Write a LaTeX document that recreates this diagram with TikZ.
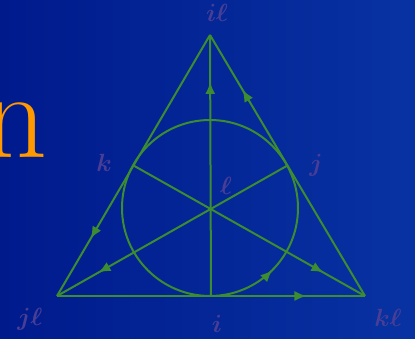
\documentclass[tikz,border=0pt]{standalone}
\usepackage{amsmath,amssymb}
\usepackage{tikz}
\usetikzlibrary{arrows.meta,calc,decorations.markings}

\definecolor{fanogreen}{RGB}{60,140,50}
\definecolor{labelblue}{RGB}{72,62,150}
\definecolor{titleorange}{RGB}{255,153,0}
\definecolor{bgleft}{RGB}{0,26,140}
\definecolor{bgright}{RGB}{8,50,162}

\begin{document}
\begin{tikzpicture}[x=1pt,y=1pt,
  edge/.style={fanogreen, line width=2pt},
  arrowat/.style={postaction={decorate},
    decoration={markings,mark=at position #1 with {\arrow{Latex[length=12pt,width=10pt]}}}},
  lbl/.style={labelblue, inner sep=0pt, font=\fontsize{25}{25}\selectfont}]

\useasboundingbox (0,0) rectangle (415,339);
\clip (0,0) rectangle (415,339);
\shade[left color=bgleft, right color=bgright] (0,0) rectangle (415,339);

\node[titleorange, anchor=base east, inner sep=0pt, font=\fontsize{125}{125}\selectfont] (title) at (48,181) {n};

% the seven points
\coordinate (il) at (210,304);
\coordinate (jl) at (57,43);
\coordinate (kl) at (365,43);
\coordinate (i) at ($(jl)!0.5!(kl)$);
\coordinate (j) at ($(il)!0.5!(kl)$);
\coordinate (k) at ($(il)!0.5!(jl)$);
\coordinate (l) at (210,131);

% triangle sides
\draw[edge, arrowat=0.78] (il) -- (jl);
\draw[edge, arrowat=0.81] (jl) -- (kl);
\draw[edge, arrowat=0.79] (kl) -- (il);

% lines through the centre
\draw[edge, arrowat=0.82] (i) -- (il);
\draw[edge, arrowat=0.82] (j) -- (jl);
\draw[edge, arrowat=0.82] (k) -- (kl);

% the circle
\draw[edge, arrowat=0.125] (l) ++(-90:88) arc[start angle=-90, end angle=270, radius=88];

\node[lbl] (lil) at (217,326) {$\boldsymbol{i\ell}$};
\node[lbl] (ljl) at (30,20) {$\boldsymbol{j\ell}$};
\node[lbl] (lkl) at (388,21) {$\boldsymbol{k\ell}$};
\node[lbl] (li) at (217,15) {$\boldsymbol{i}$};
\node[lbl] (lj) at (316,174) {$\boldsymbol{j}$};
\node[lbl] (lk) at (104,176) {$\boldsymbol{k}$};
\node[lbl] (ll) at (226,153) {$\boldsymbol{\ell}$};

\end{tikzpicture}
\end{document}
